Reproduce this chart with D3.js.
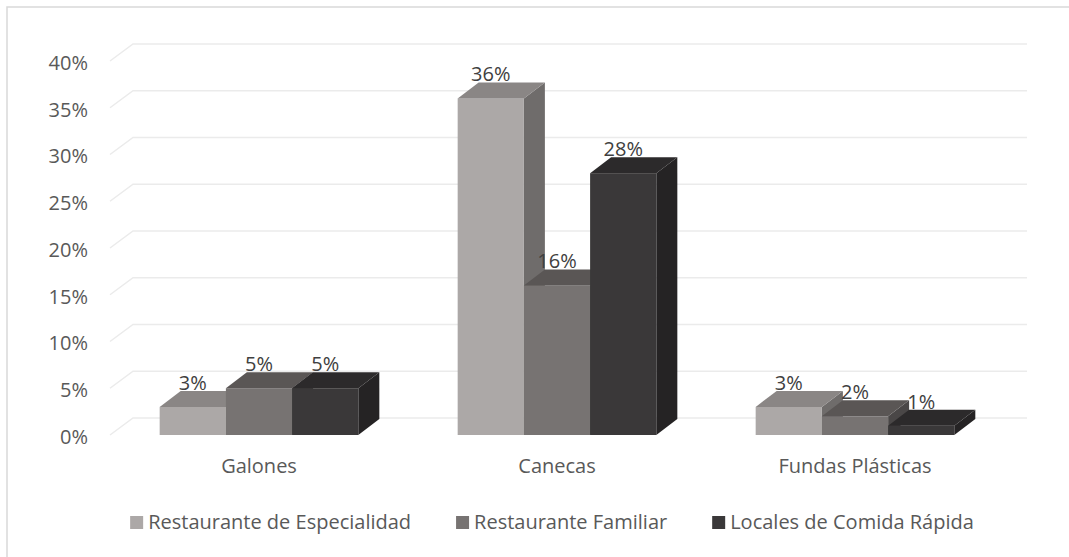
<!DOCTYPE html>
<html>
<head>
<meta charset="utf-8">
<script src="https://cdn.jsdelivr.net/npm/d3@7"></script>
<style>
  html, body { margin: 0; padding: 0; background: #fff; }
  svg { display: block; }
  text { font-family: "Open Sans", "Noto Sans", sans-serif; }
</style>
</head>
<body>
<svg id="chart" width="1069" height="557"></svg>
<script>
// Categories, series and values (percent)
const categories = ["Galones", "Canecas", "Fundas Plásticas"];
const seriesNames = ["Restaurante de Especialidad", "Restaurante Familiar", "Locales de Comida Rápida"];
const especialidad = [3, 36, 3];
const familiar = [5, 16, 2];
const comidaRapida = [5, 28, 1];
const seriesValues = [especialidad, familiar, comidaRapida];
const yTicks = [0, 5, 10, 15, 20, 25, 30, 35, 40];

// Face shading per series: front, top, side
const shades = [
  { front: "#aca8a7", top: "#8a8685", side: "#6f6c6b" },
  { front: "#777372", top: "#5a5655", side: "#4a4747" },
  { front: "#3a3839", top: "#2c2a2b", side: "#252324" }
];

const svg = d3.select("#chart");
const W = 1069, H = 557;

// chart area border
svg.append("rect")
  .attr("x", 7).attr("y", 7)
  .attr("width", W + 20).attr("height", H + 20)
  .attr("fill", "#fff").attr("stroke", "#d9d9d9").attr("stroke-width", 1.5);

// oblique depth offsets for walls and bars
const wallDx = 23, wallDy = 17;
const barDx = 21, barDy = 16;

const y = d3.scaleLinear().domain([0, 40]).range([435, 61]);
const x = d3.scaleBand().domain(categories).range([110, 1004]).padding(0);
const step = x.bandwidth();
const xs = d3.scaleBand().domain(seriesNames).range([step / 6, step * 5 / 6]).padding(0);

// gridlines: side-wall diagonal plus back-wall horizontal
const grid = svg.append("g").attr("fill", "none").attr("stroke", "#ebebeb").attr("stroke-width", 1.5);
yTicks.forEach(t => {
  const yy = y(t);
  grid.append("path")
    .attr("d", `M${x.range()[0]},${yy}L${x.range()[0] + wallDx},${yy - wallDy}L${x.range()[1] + wallDx},${yy - wallDy}`);
});

// y-axis tick labels
const yAxis = d3.axisLeft(y).tickValues(yTicks).tickFormat(d => d + "%").tickSize(0).tickPadding(0);
const yg = svg.append("g").attr("transform", "translate(88,2)").call(yAxis);
yg.select(".domain").remove();
yg.selectAll("text")
  .attr("font-size", 20).attr("fill", "#595959")
  .attr("font-family", "Open Sans, Noto Sans, sans-serif");

// bars
const bars = svg.append("g");
categories.forEach((cat, ci) => {
  seriesNames.forEach((s, si) => {
    const v = seriesValues[si][ci];
    const x0 = x(cat) + xs(s);
    const x1 = x0 + xs.bandwidth();
    const yb = y(0), yt = y(v);
    const c = shades[si];
    // right side
    bars.append("path")
      .attr("d", `M${x1},${yb}L${x1 + barDx},${yb - barDy}L${x1 + barDx},${yt - barDy}L${x1},${yt}Z`)
      .attr("fill", c.side);
    // front
    bars.append("rect")
      .attr("x", x0).attr("y", yt)
      .attr("width", x1 - x0).attr("height", yb - yt)
      .attr("fill", c.front);
    // top
    bars.append("path")
      .attr("d", `M${x0},${yt}L${x1},${yt}L${x1 + barDx},${yt - barDy}L${x0 + barDx},${yt - barDy}Z`)
      .attr("fill", c.top);
  });
});

// data labels
const labels = svg.append("g").attr("font-size", 20).attr("fill", "#404040").attr("text-anchor", "middle");
categories.forEach((cat, ci) => {
  seriesNames.forEach((s, si) => {
    const v = seriesValues[si][ci];
    const cx = x(cat) + xs(s) + xs.bandwidth() / 2;
    labels.append("text")
      .attr("x", cx)
      .attr("y", y(v) - barDy - 8)
      .attr("dy", "0.35em")
      .text(v + "%");
  });
});

// category labels
const xAxis = d3.axisBottom(x).tickSize(0).tickPadding(0);
const xg = svg.append("g").attr("transform", "translate(0,459)").call(xAxis);
xg.select(".domain").remove();
xg.selectAll("text")
  .attr("font-size", 20).attr("fill", "#595959")
  .attr("font-family", "Open Sans, Noto Sans, sans-serif");

// legend, centred under the plot
const legend = svg.append("g").attr("font-size", 20).attr("fill", "#595959");
const legendY = 522;
const itemGap = 45;
let lx = 0;
const items = legend.append("g");
seriesNames.forEach((s, si) => {
  const g = items.append("g").attr("transform", `translate(${lx},0)`);
  g.append("rect").attr("x", 0).attr("y", legendY - 6).attr("width", 13).attr("height", 13).attr("fill", shades[si].front);
  const t = g.append("text").attr("x", 18).attr("y", legendY).attr("dy", "0.35em").text(s);
  lx += 18 + t.node().getComputedTextLength() + itemGap;
});
const legendWidth = lx - itemGap;
items.attr("transform", `translate(${552 - legendWidth / 2},0)`);
</script>
</body>
</html>
